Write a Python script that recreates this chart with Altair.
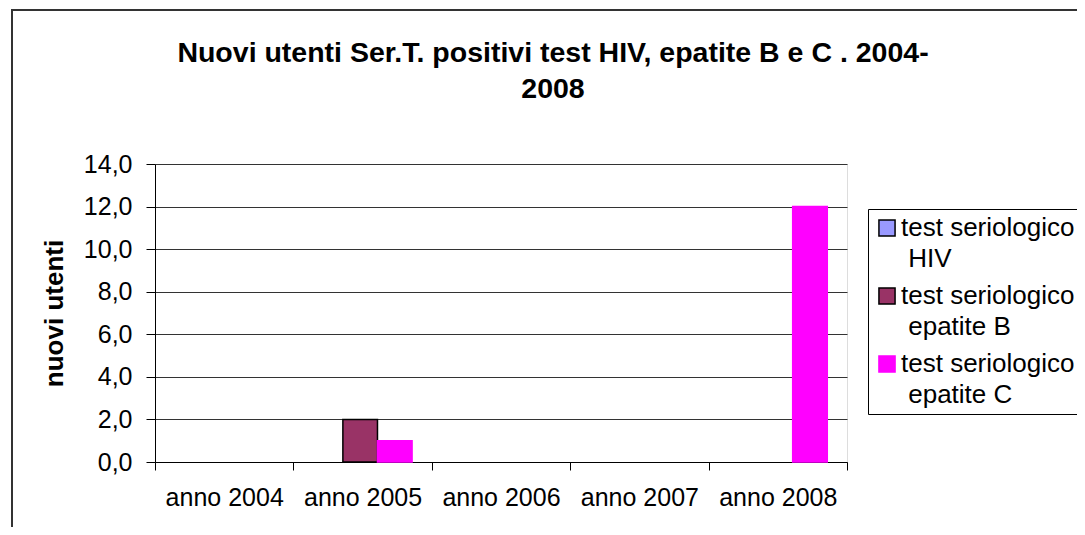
import altair as alt
import pandas as pd

categories = ["anno 2004", "anno 2005", "anno 2006", "anno 2007", "anno 2008"]
series = ["test seriologico|HIV", "test seriologico|epatite B", "test seriologico|epatite C"]
hiv = [0, 0, 0, 0, 0]
epatite_b = [0, 2, 0, 0, 0]
epatite_c = [0, 1, 0, 0, 12]
y_ticks = [0, 2, 4, 6, 8, 10, 12, 14]
title_lines = ["Nuovi utenti Ser.T. positivi test  HIV, epatite B e C . 2004-", "2008"]
fill_colors = ["#9999FF", "#993366", "#FF00FF"]
stroke_colors = ["#000000", "#000000", "#FF00FF"]

rows = []
for s, vals in zip(series, [hiv, epatite_b, epatite_c]):
    for c, v in zip(categories, vals):
        rows.append({"anno": c, "serie": s, "valore": v})
df = pd.DataFrame(rows)

FONT = "Liberation Sans"
INDENT = "\u200b\u00a0"

legend = alt.Legend(
    title=None,
    orient="none",
    legendX=713,
    legendY=45,
    strokeColor="#000000",
    fillColor="white",
    padding=6,
    symbolType="square",
    symbolSize=260,
    symbolStrokeWidth=1.5,
    labelFont=FONT,
    labelFontSize=26,
    labelColor="#000000",
    labelLimit=400,
    labelOffset=1,
    rowPadding=11,
    labelExpr="[split(datum.label, '|')[0], '" + INDENT + "' + split(datum.label, '|')[1]]",
)

bars = alt.Chart(df).transform_filter("datum.valore > 0").mark_bar(strokeWidth=1.5).encode(
    x=alt.X(
        "anno:N",
        sort=categories,
        scale=alt.Scale(domain=categories, paddingInner=0, paddingOuter=0),
        axis=alt.Axis(
            title=None,
            labelAngle=0,
            labelFont=FONT,
            labelFontSize=25,
            labelColor="#000000",
            labelPadding=15,
            tickBand="extent",
            tickSize=8,
            tickColor="#000000",
            domainColor="#000000",
            grid=False,
        ),
    ),
    xOffset=alt.XOffset(
        "serie:N",
        scale=alt.Scale(domain=series, paddingOuter=0.5, paddingInner=0, align=0.43),
    ),
    y=alt.Y(
        "valore:Q",
        scale=alt.Scale(domain=[0, 14], nice=False),
        axis=alt.Axis(
            values=y_ticks,
            title="nuovi utenti",
            titleFont=FONT,
            titleFontSize=26,
            titleFontWeight="bold",
            titleColor="#000000",
            titlePadding=16,
            labelFont=FONT,
            labelFontSize=25,
            labelColor="#000000",
            labelPadding=14,
            labelExpr="replace(format(datum.value, '.1f'), '.', ',')",
            tickSize=9,
            tickColor="#000000",
            domainColor="#000000",
            gridColor="#333333",
            gridWidth=1,
        ),
    ),
    fill=alt.Fill("serie:N", scale=alt.Scale(domain=series, range=fill_colors), legend=legend),
    stroke=alt.Stroke("serie:N", scale=alt.Scale(domain=series, range=stroke_colors), legend=legend),
)

border = alt.Chart(alt.Data(values=[{"k": 1}])).mark_rect(
    filled=False, stroke="#333333", strokeWidth=2
).encode(
    x=alt.value(-143), x2=alt.value(1000), y=alt.value(-154), y2=alt.value(500)
)

chart = alt.layer(border, bars).properties(
    width=692,
    height=298,
    autosize=alt.AutoSizeParams(type="none"),
    padding={"left": 147, "top": 156, "right": 230, "bottom": 65},
    title=alt.Title(
        text=title_lines,
        font=FONT,
        fontSize=28.5,
        fontWeight="bold",
        color="#000000",
        anchor="middle",
        frame="group",
        dx=52,
        offset=-94,
        lineHeight=36,
    ),
).configure_view(stroke=None).configure(
    background="white",
    style={"guide-label": {"lineHeight": 31}},
)

chart.save("out.html", embed_options={"renderer": "svg", "actions": False})
